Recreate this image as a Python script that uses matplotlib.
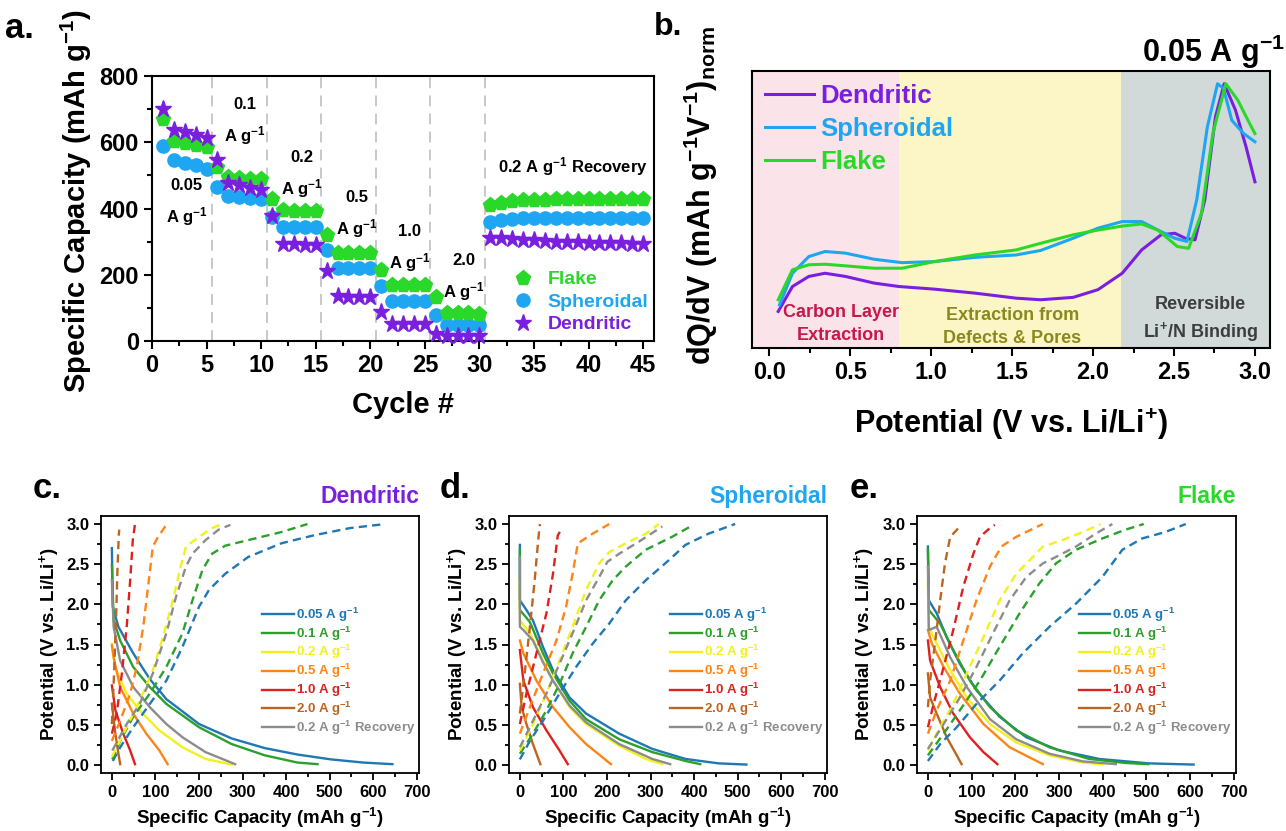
import matplotlib
matplotlib.use('Agg')
import matplotlib.pyplot as plt
from matplotlib.ticker import MultipleLocator, NullLocator, FormatStrFormatter

plt.rcParams['font.family'] = ['Liberation Sans', 'DejaVu Sans']
plt.rcParams['font.weight'] = 'bold'
plt.rcParams['axes.labelweight'] = 'bold'
plt.rcParams['mathtext.default'] = 'regular'

W, H = 1286, 831

# ---------------- panel a: rate capability ----------------
cycles = list(range(1, 46))
flake_cap = [670, 605, 598, 592, 585, 525, 495, 492, 490, 488,
             430, 395, 393, 393, 392, 320, 265, 265, 265, 265,
             213, 168, 168, 168, 168, 133, 85, 85, 85, 83,
             410, 418, 422, 425, 426, 427, 428, 428, 428, 428, 429, 429, 430, 430, 430]
spher_cap = [590, 545, 538, 530, 520, 465, 438, 435, 433, 430,
             375, 345, 345, 345, 345, 275, 220, 220, 220, 220,
             165, 120, 120, 120, 120, 80, 48, 48, 48, 48,
             360, 365, 368, 370, 370, 370, 370, 370, 370, 370, 370, 370, 370, 370, 370]
dend_cap = [700, 638, 630, 622, 613, 545, 478, 470, 462, 455,
            378, 293, 292, 291, 290, 210, 135, 133, 132, 132,
            88, 52, 52, 52, 50, 22, 16, 15, 15, 15,
            312, 310, 308, 306, 304, 302, 300, 299, 298, 297, 296, 295, 295, 294, 293]
step_bounds = [5.5, 10.5, 15.5, 20.5, 25.5, 30.5]
step_labels = ['0.05', '0.1', '0.2', '0.5', '1.0', '2.0']
step_label_x = [3.2, 8.55, 13.7, 18.8, 23.6, 28.6]
step_label_y = [418, 661, 502, 380, 277, 190]

# ---------------- panel b: dQ/dV ----------------
dend_v = [0.055, 0.143, 0.244, 0.344, 0.47, 0.646, 0.80, 1.02, 1.27, 1.525, 1.676, 1.877,
          2.03, 2.18, 2.30, 2.42, 2.505, 2.57, 2.63, 2.69, 2.756, 2.81, 2.88, 2.945, 3.0]
dend_dq = [0.138, 0.232, 0.270, 0.282, 0.270, 0.245, 0.232, 0.222, 0.207, 0.188, 0.182, 0.191,
           0.22, 0.282, 0.37, 0.427, 0.433, 0.414, 0.408, 0.558, 0.872, 0.997, 0.897, 0.759, 0.627]
spher_v = [0.063, 0.143, 0.244, 0.344, 0.47, 0.646, 0.82, 1.02, 1.27, 1.525, 1.676, 1.877,
           2.03, 2.18, 2.30, 2.40, 2.505, 2.58, 2.64, 2.706, 2.769, 2.806, 2.857, 2.93, 3.0]
spher_dq = [0.163, 0.282, 0.345, 0.364, 0.358, 0.335, 0.322, 0.326, 0.342, 0.351, 0.368, 0.414,
            0.452, 0.477, 0.477, 0.445, 0.414, 0.402, 0.558, 0.834, 0.997, 0.979, 0.859, 0.809, 0.778]
flake_v = [0.055, 0.143, 0.244, 0.344, 0.47, 0.646, 0.82, 1.02, 1.27, 1.525, 1.676, 1.877,
           2.03, 2.18, 2.30, 2.40, 2.52, 2.59, 2.67, 2.74, 2.82, 2.894, 2.957, 3.0]
flake_dq = [0.182, 0.295, 0.314, 0.316, 0.31, 0.301, 0.301, 0.326, 0.351, 0.37, 0.395, 0.427,
            0.445, 0.46, 0.468, 0.445, 0.383, 0.376, 0.508, 0.809, 0.997, 0.935, 0.859, 0.809]
region_edges = [0.8, 2.17]

# ---------------- panels c-e: charge / discharge ----------------
rates = ['0.05', '0.1', '0.2', '0.5', '1.0', '2.0', 'rec']
rate_labels = ['0.05 A g$^{-1}$', '0.1 A g$^{-1}$', '0.2 A g$^{-1}$', '0.5 A g$^{-1}$',
               '1.0 A g$^{-1}$', '2.0 A g$^{-1}$', '0.2 A g$^{-1}$ Recovery']
rate_colors = ['#1f77b4', '#2ca02c', '#f2f21a', '#ff8418', '#e0201e', '#bd651f', '#8c8c8c']

dend_dis = {
    '0.05': ([0, 2, 15, 49, 87, 125, 200, 275, 351, 426, 502, 577, 644],
             [2.70, 1.97, 1.72, 1.39, 1.07, 0.82, 0.51, 0.33, 0.21, 0.13, 0.07, 0.03, 0.01]),
    '0.1': ([0, 4, 19, 49, 87, 125, 200, 275, 351, 426, 472],
            [2.49, 1.80, 1.55, 1.22, 0.97, 0.76, 0.47, 0.26, 0.12, 0.03, 0.01]),
    '0.2': ([0, 7, 34, 64, 109, 162, 215, 275],
            [1.51, 1.22, 0.89, 0.68, 0.43, 0.22, 0.075, 0.005]),
    '0.5': ([0, 4, 19, 49, 79, 109, 128],
            [1.49, 1.34, 0.97, 0.64, 0.39, 0.18, 0.01]),
    '1.0': ([0, 8, 26, 42, 53], [0.99, 0.68, 0.39, 0.18, 0.01]),
    '2.0': ([0, 8, 15, 19], [0.76, 0.39, 0.14, 0.01]),
    'rec': ([0, 4, 19, 49, 87, 125, 162, 215, 283],
            [2.30, 1.72, 1.30, 0.97, 0.72, 0.51, 0.345, 0.16, 0.01]),
}
dend_chg = {
    '0.05': ([2, 19, 49, 87, 125, 162, 200, 223, 260, 313, 389, 464, 547, 628],
             [0.05, 0.22, 0.47, 0.76, 1.05, 1.47, 1.97, 2.18, 2.38, 2.59, 2.76, 2.86, 2.95, 3.0]),
    '0.1': ([1, 19, 49, 87, 125, 162, 185, 208, 230, 260, 313, 389, 449],
            [0.07, 0.30, 0.60, 0.89, 1.22, 1.64, 2.05, 2.43, 2.63, 2.73, 2.80, 2.90, 3.0]),
    '0.2': ([0, 34, 64, 94, 117, 140, 158, 170, 200, 230, 249],
            [0.10, 0.47, 0.80, 1.18, 1.59, 2.05, 2.47, 2.72, 2.84, 2.95, 2.99]),
    '0.5': ([0, 19, 42, 57, 72, 83, 94, 106, 125],
            [0.30, 0.55, 0.89, 1.22, 1.72, 2.22, 2.72, 2.84, 2.99]),
    '1.0': ([0, 11, 23, 34, 42, 48, 53], [0.39, 0.64, 1.14, 1.72, 2.30, 2.80, 3.0]),
    '2.0': ([0, 5, 10, 13, 16, 17], [0.51, 1.14, 1.89, 2.47, 2.88, 2.93]),
    'rec': ([1, 34, 64, 94, 125, 147, 170, 185, 215, 245, 272],
            [0.18, 0.51, 0.76, 1.14, 1.64, 2.09, 2.47, 2.63, 2.80, 2.93, 2.99]),
}

spher_dis = {
    '0.05': ([0, 0, 15, 30, 53, 76, 114, 152, 228, 304, 380, 456, 520],
             [2.74, 2.05, 1.93, 1.80, 1.47, 1.18, 0.84, 0.64, 0.39, 0.20, 0.075, 0.02, 0.005]),
    '0.1': ([0, 0, 23, 53, 76, 114, 152, 228, 304, 380, 414],
            [2.68, 1.93, 1.78, 1.39, 1.14, 0.80, 0.57, 0.32, 0.16, 0.05, 0.01]),
    '0.2': ([0, 0, 23, 53, 76, 114, 152, 228, 289, 327],
            [2.30, 1.80, 1.64, 1.30, 1.05, 0.72, 0.51, 0.24, 0.075, 0.01]),
    '0.5': ([0, 8, 38, 76, 114, 152, 209], [1.55, 1.39, 1.05, 0.72, 0.47, 0.26, 0.01]),
    '1.0': ([0, 8, 30, 61, 91, 110], [1.43, 1.05, 0.72, 0.43, 0.18, 0.01]),
    '2.0': ([0, 4, 15, 30, 47], [1.01, 0.72, 0.51, 0.26, 0.01]),
    'rec': ([0, 0, 8, 30, 53, 76, 114, 152, 228, 304, 345],
            [2.59, 1.72, 1.68, 1.55, 1.28, 1.05, 0.74, 0.53, 0.26, 0.075, 0.01]),
}
spher_chg = {
    '0.05': ([0, 23, 53, 91, 129, 167, 205, 243, 289, 342, 380, 433, 494],
             [0.07, 0.30, 0.55, 0.89, 1.22, 1.51, 1.76, 2.05, 2.30, 2.55, 2.74, 2.88, 3.0]),
    '0.1': ([0, 30, 61, 91, 121, 152, 182, 213, 243, 289, 349, 395],
            [0.14, 0.39, 0.68, 1.01, 1.39, 1.72, 2.05, 2.30, 2.47, 2.68, 2.84, 2.98]),
    '0.2': ([0, 30, 61, 91, 121, 152, 182, 205, 243, 289, 319],
            [0.18, 0.51, 0.89, 1.30, 1.72, 2.18, 2.51, 2.65, 2.76, 2.88, 3.0]),
    '0.5': ([0, 23, 53, 84, 106, 121, 133, 167, 205],
            [0.39, 0.72, 1.14, 1.55, 1.97, 2.38, 2.76, 2.88, 3.0]),
    '1.0': ([0, 15, 38, 61, 76, 87, 95], [0.51, 0.89, 1.39, 1.89, 2.38, 2.86, 2.93]),
    '2.0': ([0, 11, 23, 34, 42, 46], [0.64, 1.14, 1.72, 2.30, 2.80, 3.0]),
    'rec': ([0, 30, 61, 91, 121, 152, 182, 201, 228, 273, 327],
            [0.22, 0.55, 0.89, 1.26, 1.64, 2.05, 2.34, 2.53, 2.63, 2.78, 2.97]),
}

flake_dis = {
    '0.05': ([0, 2, 20, 43, 73, 111, 164, 225, 301, 392, 505, 608],
             [2.72, 2.05, 1.89, 1.59, 1.26, 0.93, 0.60, 0.345, 0.18, 0.075, 0.02, 0.005]),
    '0.1': ([0, 2, 28, 58, 96, 142, 202, 278, 369, 452, 504],
            [2.68, 1.93, 1.76, 1.43, 1.05, 0.72, 0.43, 0.22, 0.075, 0.025, 0.01]),
    '0.2': ([0, 2, 20, 51, 89, 142, 202, 278, 354, 399],
            [2.26, 1.72, 1.51, 1.18, 0.84, 0.51, 0.28, 0.12, 0.03, 0.01]),
    '0.5': ([0, 9, 36, 73, 127, 187, 263], [1.68, 1.51, 1.22, 0.89, 0.51, 0.22, 0.01]),
    '1.0': ([0, 5, 28, 58, 96, 127, 159], [1.55, 1.30, 0.97, 0.64, 0.345, 0.16, 0.01]),
    '2.0': ([0, 5, 20, 43, 66, 77], [1.14, 0.84, 0.64, 0.345, 0.12, 0.01]),
    'rec': ([0, 2, 20, 51, 89, 142, 202, 278, 354, 430],
            [2.47, 1.68, 1.72, 1.34, 0.97, 0.57, 0.32, 0.14, 0.045, 0.01]),
}
flake_chg = {
    '0.05': ([0, 28, 66, 111, 164, 217, 278, 339, 399, 445, 490, 543, 590],
             [0.05, 0.26, 0.47, 0.76, 1.05, 1.39, 1.72, 2.01, 2.34, 2.68, 2.82, 2.90, 3.0]),
    '0.1': ([0, 36, 73, 119, 164, 210, 255, 293, 339, 399, 452, 494],
            [0.12, 0.39, 0.68, 1.05, 1.47, 1.89, 2.26, 2.51, 2.68, 2.82, 2.93, 3.0]),
    '0.2': ([0, 28, 58, 89, 127, 164, 202, 233, 263, 308, 354, 395],
            [0.18, 0.47, 0.76, 1.14, 1.59, 2.05, 2.38, 2.55, 2.72, 2.80, 2.90, 3.0]),
    '0.5': ([0, 20, 51, 81, 111, 142, 168, 202, 236, 263],
            [0.39, 0.68, 1.05, 1.55, 2.05, 2.47, 2.72, 2.84, 2.93, 3.0]),
    '1.0': ([0, 13, 36, 58, 81, 104, 119, 142, 153],
            [0.47, 0.76, 1.22, 1.68, 2.22, 2.63, 2.84, 2.95, 2.99]),
    '2.0': ([0, 5, 17, 28, 39, 51, 70], [0.72, 1.05, 1.55, 2.05, 2.51, 2.84, 2.95]),
    'rec': ([0, 36, 73, 111, 149, 187, 225, 263, 293, 339, 384, 422],
            [0.20, 0.51, 0.84, 1.22, 1.64, 2.05, 2.34, 2.51, 2.59, 2.72, 2.88, 3.0]),
}

C_FLAKE = '#2ad82a'
C_SPHER = '#1ea6f2'
C_DEND = '#7a1fe0'


def px_rect(left, top, right, bottom):
    return [left / W, 1 - bottom / H, (right - left) / W, (bottom - top) / H]


def style_axis(ax, lw=1.5):
    for sp in ax.spines.values():
        sp.set_linewidth(lw)
    ax.tick_params(which='both', direction='out', top=False, right=False, width=lw)
    ax.tick_params(which='major', length=6)
    ax.tick_params(which='minor', length=3.5)


fig = plt.figure(figsize=(W / 100, H / 100), dpi=100)

# ---- a ----
ax = fig.add_axes(px_rect(152, 76, 654, 341))
for xb in step_bounds:
    ax.axvline(xb, color='#c4c4c4', ls=(0, (6, 4)), lw=1.3, zorder=1)
ax.plot(cycles, spher_cap, 'o', ls='none', color=C_SPHER, ms=9.5, label='Spheroidal', zorder=3)
ax.plot(cycles, flake_cap, 'p', ls='none', color=C_FLAKE, ms=11, label='Flake', zorder=3)
ax.plot(cycles, dend_cap, '*', ls='none', color=C_DEND, ms=12.5, label='Dendritic', zorder=4,
        clip_on=False)
ax.set_xlim(0, 46)
ax.set_ylim(0, 800)
ax.xaxis.set_major_locator(MultipleLocator(5))
ax.xaxis.set_minor_locator(MultipleLocator(2.5))
ax.yaxis.set_major_locator(MultipleLocator(200))
ax.yaxis.set_minor_locator(MultipleLocator(100))
style_axis(ax)
ax.tick_params(labelsize=17)
ax.set_xlabel('Cycle #', fontsize=21)
ax.set_ylabel('Specific Capacity (mAh g$^{-1}$)', fontsize=21)
ax.xaxis.set_label_coords(0.5, -0.24)
ax.xaxis.label.set_va('center')
ax.yaxis.set_label_coords(-0.151, 0.528)
ax.yaxis.label.set_va('center')
for lab, xs, ys in zip(step_labels, step_label_x, step_label_y):
    ax.text(xs, ys, lab + '\nA g$^{-1}$', ha='center', va='center', fontsize=12,
            linespacing=1.7)
ax.text(38.6, 528, '0.2 A g$^{-1}$ Recovery', ha='center', va='center', fontsize=12)
h, l = ax.get_legend_handles_labels()
order = [1, 0, 2]
leg = ax.legend([h[i] for i in order], [l[i] for i in order], loc='lower right',
                bbox_to_anchor=(1.012, -0.015), frameon=False, fontsize=14, handletextpad=0.25,
                labelspacing=0.25, borderaxespad=0.2)
for txt, c in zip(leg.get_texts(), [C_FLAKE, C_SPHER, C_DEND]):
    txt.set_color(c)
fig.text(0.004, 0.985, 'a.', fontsize=25, va='top', ha='left')

# ---- b ----
ax = fig.add_axes(px_rect(752, 71, 1270, 348))
ax.axvspan(-0.107, region_edges[0], color='#fbe3ea', lw=0, zorder=0)
ax.axvspan(region_edges[0], region_edges[1], color='#fcf5c6', lw=0, zorder=0)
ax.axvspan(region_edges[1], 3.1, color='#d2d9d9', lw=0, zorder=0)
ax.plot(dend_v, dend_dq, color=C_DEND, lw=2.2, label='Dendritic')
ax.plot(spher_v, spher_dq, color=C_SPHER, lw=2.2, label='Spheroidal')
ax.plot(flake_v, flake_dq, color=C_FLAKE, lw=2.2, label='Flake')
ax.set_xlim(-0.107, 3.093)
ax.set_ylim(0, 1.045)
ax.xaxis.set_major_locator(MultipleLocator(0.5))
ax.xaxis.set_minor_locator(MultipleLocator(0.25))
ax.xaxis.set_major_formatter(FormatStrFormatter('%.1f'))
ax.yaxis.set_major_locator(NullLocator())
style_axis(ax)
ax.tick_params(labelsize=17)
ax.set_xlabel('Potential (V vs. Li/Li$^{+}$)', fontsize=22)
ax.set_ylabel('dQ/dV (mAh g$^{-1}$V$^{-1}$)$_{norm}$', fontsize=22)
ax.xaxis.set_label_coords(0.5, -0.277)
ax.xaxis.label.set_va('center')
ax.yaxis.set_label_coords(-0.098, 0.55)
ax.yaxis.label.set_va('center')
leg = ax.legend(loc='upper left', frameon=False, fontsize=18.5, handlelength=1.9,
                handletextpad=0.25, labelspacing=0.36, borderaxespad=0.0, borderpad=0.5)
for txt, c in zip(leg.get_texts(), [C_DEND, C_SPHER, C_FLAKE]):
    txt.set_color(c)
for line in leg.get_lines():
    line.set_linewidth(2.2)
ax.text(0.44, 0.09, 'Carbon Layer\nExtraction', color='#c8174b', fontsize=13,
        ha='center', va='center', linespacing=1.45)
ax.text(1.5, 0.08, 'Extraction from\nDefects & Pores', color='#8a8a1c', fontsize=13,
        ha='center', va='center', linespacing=1.45)
ax.text(2.66, 0.105, 'Reversible\nLi$^{+}$/N Binding', color='#3d3d3d', fontsize=13,
        ha='center', va='center', linespacing=1.45)
ax.text(1.029, 1.032, '0.05 A g$^{-1}$', transform=ax.transAxes, ha='right', va='baseline',
        fontsize=22)
fig.text(654 / W, 0.985, 'b.', fontsize=23, va='top', ha='left')

# ---- c, d, e ----
panels = [
    ('c.', 'Dendritic', C_DEND, dend_dis, dend_chg, (101, 516, 419, 773), 33),
    ('d.', 'Spheroidal', C_SPHER, spher_dis, spher_chg, (509, 516, 827, 773), 440),
    ('e.', 'Flake', C_FLAKE, flake_dis, flake_chg, (917, 516, 1236, 773), 850),
]
for letter, name, ncol, dis, chg, rect, lx in panels:
    ax = fig.add_axes(px_rect(*rect))
    for r, lab, c in zip(rates, rate_labels, rate_colors):
        ax.plot(dis[r][0], dis[r][1], color=c, lw=1.7, label=lab)
    for r, c in zip(rates, rate_colors):
        ax.plot(chg[r][0], chg[r][1], color=c, lw=1.7, ls=(0, (3.5, 2.2)))
    ax.set_xlim(-25, 705)
    ax.set_ylim(-0.1, 3.1)
    ax.xaxis.set_major_locator(MultipleLocator(100))
    ax.xaxis.set_minor_locator(MultipleLocator(50))
    ax.yaxis.set_major_locator(MultipleLocator(0.5))
    ax.yaxis.set_minor_locator(MultipleLocator(0.25))
    ax.yaxis.set_major_formatter(FormatStrFormatter('%.1f'))
    style_axis(ax, lw=1.3)
    ax.tick_params(which='major', length=5)
    ax.tick_params(which='minor', length=3)
    ax.tick_params(labelsize=12)
    ax.set_xlabel('Specific Capacity (mAh g$^{-1}$)', fontsize=13.5)
    ax.set_ylabel('Potential (V vs. Li/Li$^{+}$)', fontsize=13.5)
    ax.xaxis.set_label_coords(0.5, -0.176)
    ax.xaxis.label.set_va('center')
    ax.yaxis.set_label_coords(-0.165, 0.5)
    ax.yaxis.label.set_va('center')
    leg = ax.legend(loc='lower left', bbox_to_anchor=(0.49, 0.12), frameon=False,
                    fontsize=9.5, handlelength=2.4, handletextpad=0.15, labelspacing=0.05,
                    borderaxespad=0)
    for txt, c in zip(leg.get_texts(), rate_colors):
        txt.set_color(c)
    ax.text(1.0, 1.03, name, color=ncol, transform=ax.transAxes, ha='right', va='bottom',
            fontsize=16.5)
    fig.text(lx / W, 1 - 472 / H, letter, fontsize=25, va='top', ha='left')

fig.savefig('out.png', dpi=100, facecolor='white')
